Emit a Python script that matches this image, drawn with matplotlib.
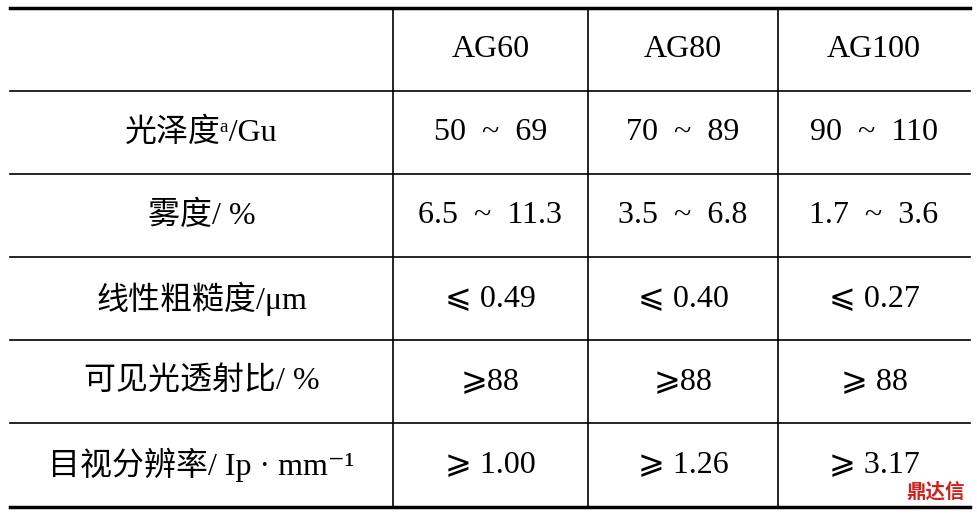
import matplotlib
matplotlib.use("Agg")
import matplotlib.pyplot as plt

plt.rcParams['font.family'] = ['Liberation Serif', 'Noto Sans CJK SC', 'DejaVu Sans']

columns = ["AG60", "AG80", "AG100"]
row_labels = ["光泽度ᵃ/Gu", "雾度/ %", "线性粗糙度/μm", "可见光透射比/ %",
              "目视分辨率/ Ip · mm⁻¹"]
values = [
    ["50  ~  69", "70  ~  89", "90  ~  110"],
    ["6.5  ~  11.3", "3.5  ~  6.8", "1.7  ~  3.6"],
    ["⩽ 0.49", "⩽ 0.40", "⩽ 0.27"],
    ["⩾88", "⩾88", "⩾ 88"],
    ["⩾ 1.00", "⩾ 1.26", "⩾ 3.17"],
]

W, H = 977, 517
fig = plt.figure(figsize=(W/100, H/100), dpi=100)
ax = fig.add_axes([0, 0, 1, 1])
ax.set_xlim(0, W); ax.set_ylim(H, 0); ax.axis('off')

row_y = [8, 91, 174, 257, 340, 423, 507]
col_x = [10, 393, 588, 778, 970]
ax.plot([10, 970], [row_y[0]]*2, color='black', lw=2.5)
ax.plot([10, 970], [row_y[-1]]*2, color='black', lw=2.5)
for y in row_y[1:-1]:
    ax.plot([10, 970], [y, y], color='black', lw=1.2)
for x in col_x[1:-1]:
    ax.plot([x, x], [row_y[0], row_y[-1]], color='black', lw=1.2)

fs = 23
def cx(i): return (col_x[i] + col_x[i+1]) / 2
def cy(j): return (row_y[j] + row_y[j+1]) / 2

for i, c in enumerate(columns):
    ax.text(cx(i+1), cy(0), c, ha='center', va='center', fontsize=fs)
for j, lab in enumerate(row_labels):
    ax.text(cx(0), cy(j+1), lab, ha='center', va='center', fontsize=fs)
    for i, v in enumerate(values[j]):
        ax.text(cx(i+1), cy(j+1), v, ha='center', va='center', fontsize=fs)

ax.text(965, 492, "鼎达信", ha='right', va='center', fontsize=14, color='#d0201c',
        family=['Noto Sans CJK SC'], fontweight='bold')

fig.savefig("out.png", dpi=100)
